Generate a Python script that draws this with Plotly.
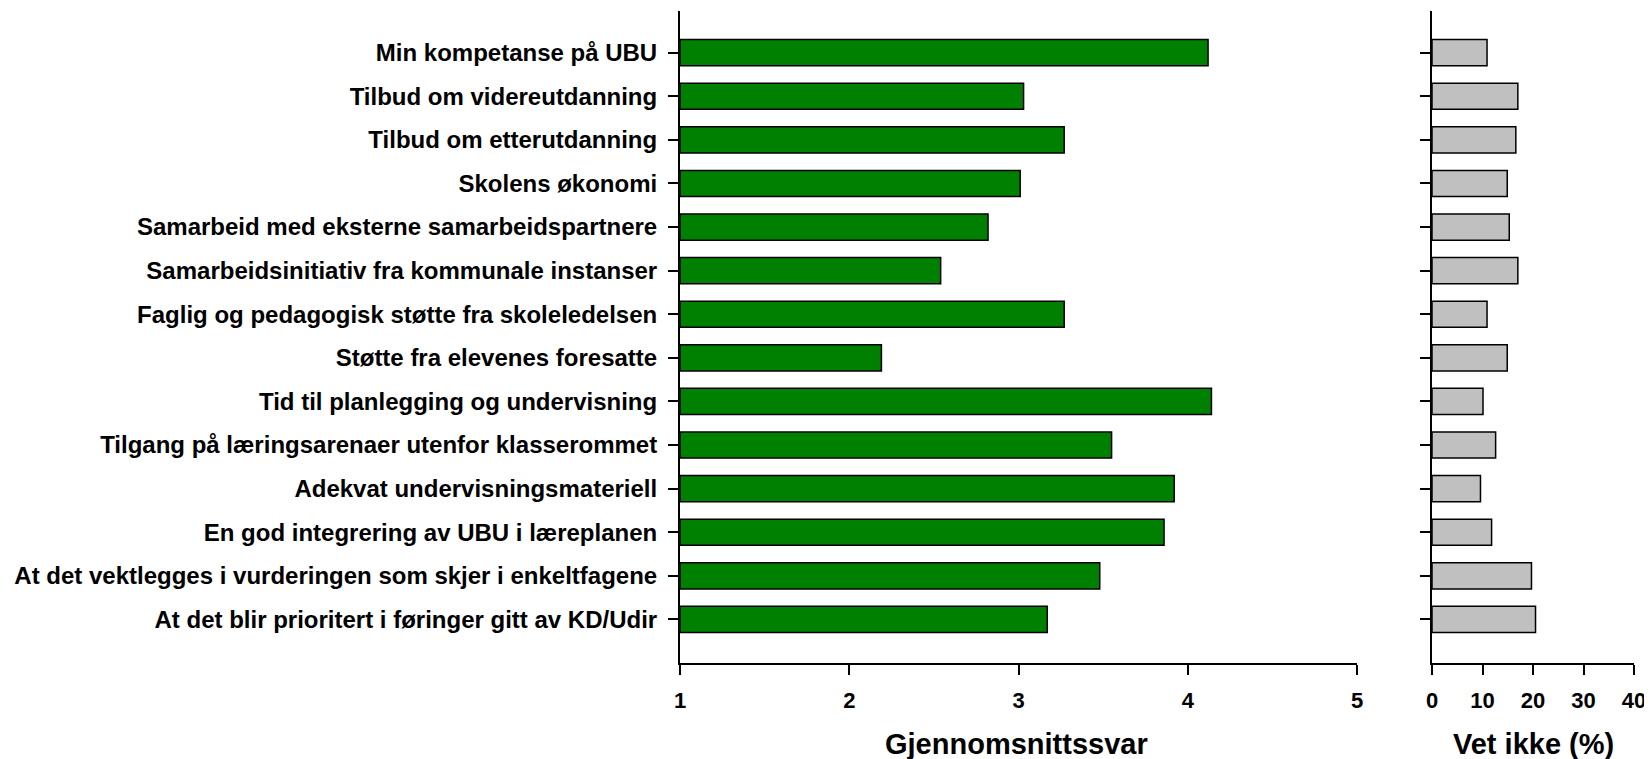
import plotly.graph_objects as go

# ─── Data ────────────────────────────────────────────────────────────────────
items = [
    "Min kompetanse på UBU",
    "Tilbud om videreutdanning",
    "Tilbud om etterutdanning",
    "Skolens økonomi",
    "Samarbeid med eksterne samarbeidspartnere",
    "Samarbeidsinitiativ fra kommunale instanser",
    "Faglig og pedagogisk støtte fra skoleledelsen",
    "Støtte fra elevenes foresatte",
    "Tid til planlegging og undervisning",
    "Tilgang på læringsarenaer utenfor klasserommet",
    "Adekvat undervisningsmateriell",
    "En god integrering av UBU i læreplanen",
    "At det vektlegges i vurderingen som skjer i enkeltfagene",
    "At det blir prioritert i føringer gitt av KD/Udir",
]
mean_answer = [4.12, 3.03, 3.27, 3.01, 2.82, 2.54, 3.27, 2.19, 4.14, 3.55, 3.92, 3.86, 3.48, 3.17]
dont_know_pct = [10.9, 17.0, 16.6, 14.9, 15.3, 17.0, 10.9, 14.9, 10.1, 12.6, 9.6, 11.8, 19.7, 20.5]

FONT = "Liberation Sans, Arial, sans-serif"
BASE = 1
# page body has an 8px margin, so the figure is shrunk by that and
# target pixel positions are shifted accordingly
OFF = 8
W, H = 1652 - OFF, 759 - OFF


def px_x(x):
    return (x - OFF) / W


def px_y(y):
    return 1 - (y - OFF) / H


fig = go.Figure()
fig.add_trace(go.Bar(
    y=items, x=[v - BASE for v in mean_answer], base=BASE, orientation="h",
    marker=dict(color="#008000", line=dict(color="black", width=1.5)),
    width=0.6, xaxis="x", yaxis="y", showlegend=False,
))
fig.add_trace(go.Bar(
    y=items, x=dont_know_pct, orientation="h",
    marker=dict(color="#c0c0c0", line=dict(color="black", width=1.5)),
    width=0.6, xaxis="x2", yaxis="y2", showlegend=False,
))

axis_common = dict(
    showline=True, linecolor="black", linewidth=2, showgrid=False, zeroline=False,
    ticks="outside", ticklen=10, tickwidth=1.5, tickcolor="black", automargin=False,
    tickfont=dict(family=FONT, size=22, color="black", weight="bold"),
)
yrange = [14.0, -0.968]
ydom = [px_y(663), px_y(10.5)]

fig.update_layout(
    width=W, height=H,
    margin=dict(l=0, r=0, t=0, b=0),
    paper_bgcolor="white", plot_bgcolor="white",
    font=dict(family=FONT, color="black"),
    xaxis=dict(domain=[px_x(680), px_x(1357)], range=[1, 5], dtick=1, anchor="y",
               ticklabelstandoff=7, **axis_common),
    yaxis=dict(domain=ydom, range=yrange, type="category", anchor="x", ticklabelstandoff=6,
               **{**axis_common, "tickfont": dict(family=FONT, size=24, color="black", weight="bold")}),
    xaxis2=dict(domain=[px_x(1432), px_x(1634)], range=[0, 40], dtick=10, anchor="y2",
                ticklabelstandoff=7, **axis_common),
    yaxis2=dict(domain=ydom, range=yrange, type="category", anchor="x2",
                showticklabels=False, **axis_common),
    annotations=[
        dict(text="<b>Gjennomsnittssvar</b>", x=px_x(1016), y=px_y(744), xref="paper", yref="paper",
             showarrow=False, font=dict(family=FONT, size=29, color="black"), xanchor="center", yanchor="middle"),
        dict(text="<b>Vet ikke (%)</b>", x=px_x(1533), y=px_y(744), xref="paper", yref="paper",
             showarrow=False, font=dict(family=FONT, size=29, color="black"), xanchor="center", yanchor="middle"),
    ],
)

fig.write_html("out.html")
